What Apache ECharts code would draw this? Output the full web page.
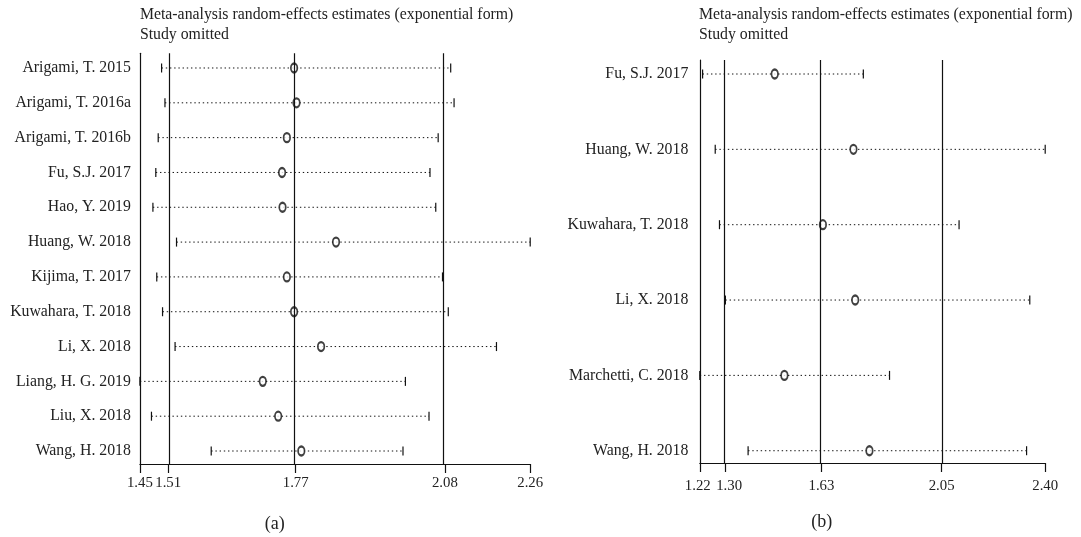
<!DOCTYPE html>
<html><head><meta charset="utf-8">
<script src="https://cdn.jsdelivr.net/npm/echarts@6/dist/echarts.min.js"></script>
<style>html,body{margin:0;padding:0;background:#fff}#c{width:1081px;height:537px}</style>
</head><body><div id="c"></div>
<script>
// Panel (a)
const studiesA = ['Arigami, T. 2015','Arigami, T. 2016a','Arigami, T. 2016b','Fu, S.J. 2017','Hao, Y. 2019','Huang, W. 2018','Kijima, T. 2017','Kuwahara, T. 2018','Li, X. 2018','Liang, H. G. 2019','Liu, X. 2018','Wang, H. 2018'];
const estA  = [1.770, 1.775, 1.755, 1.745, 1.746, 1.857, 1.755, 1.770, 1.826, 1.705, 1.737, 1.785];
const lowA  = [1.495, 1.502, 1.488, 1.483, 1.477, 1.526, 1.485, 1.497, 1.523, 1.450, 1.474, 1.598];
const highA = [2.095, 2.102, 2.069, 2.052, 2.064, 2.260, 2.078, 2.090, 2.190, 2.001, 2.050, 1.996];
const overallA = [1.5087, 1.7733, 2.0829];
const rangeA = [1.45, 2.26];
const ticksA = [1.45, 1.5087, 1.7733, 2.0829, 2.26];

// Panel (b)
const studiesB = ['Fu, S.J. 2017','Huang, W. 2018','Kuwahara, T. 2018','Li, X. 2018','Marchetti, C. 2018','Wang, H. 2018'];
const estB  = [1.4735, 1.744, 1.639, 1.750, 1.5067, 1.799];
const lowB  = [1.2256, 1.269, 1.2836, 1.304, 1.216, 1.382];
const highB = [1.778, 2.403, 2.107, 2.350, 1.868, 2.339];
const overallB = [1.303, 1.634, 2.047];
const rangeB = [1.216, 2.403];
const ticksB = [1.216, 1.303, 1.634, 2.047, 2.403];

const titleLine1 = 'Meta-analysis random-effects estimates (exponential form)';
const titleLine2 = 'Study omitted';

const FONT = '"Liberation Serif", "DejaVu Serif", serif';
const INK = '#111';
const TXT = '#222';
const LBL = 15.8;
const TICK = 14.8;

function ciRender(params, api) {
  const y = api.value(2);
  const lo = api.coord([api.value(0), y]);
  const hi = api.coord([api.value(1), y]);
  const h = 4.5;
  return {type: 'group', children: [
    {type: 'line', shape: {x1: lo[0], y1: lo[1], x2: hi[0], y2: hi[1]}, style: {stroke: INK, lineWidth: 1, lineDash: [1.4, 2.8]}},
    {type: 'line', shape: {x1: lo[0], y1: lo[1] - h, x2: lo[0], y2: lo[1] + h}, style: {stroke: INK, lineWidth: 1.2}},
    {type: 'line', shape: {x1: hi[0], y1: hi[1] - h, x2: hi[0], y2: hi[1] + h}, style: {stroke: INK, lineWidth: 1.2}}
  ]};
}

function xAxisCfg(idx, range, ticks, margin, shiftIdx) {
  return {
    type: 'value', gridIndex: idx, min: range[0], max: range[1],
    axisLine: {onZero: false, lineStyle: {color: INK, width: 1.2}},
    axisTick: {customValues: ticks, length: 9, lineStyle: {color: INK, width: 1.2}},
    axisLabel: {customValues: ticks,
      formatter: v => {
        const s = v.toFixed(2);
        if (shiftIdx !== undefined && Math.abs(v - ticks[shiftIdx]) < 1e-9) return '{r|' + s + '}';
        if (shiftIdx !== undefined && Math.abs(v - ticks[0]) < 1e-9) return '{l|' + s + '}';
        return s;
      },
      rich: {
        r: {fontFamily: FONT, fontSize: TICK, color: TXT, padding: [0, 0, 0, 8]},
        l: {fontFamily: FONT, fontSize: TICK, color: TXT, padding: [0, 4, 0, 0]}
      },
      fontFamily: FONT, fontSize: TICK, color: TXT, margin: margin},
    splitLine: {show: false}
  };
}
function yAxisCfg(idx, names, min, max, margin) {
  return {
    type: 'value', gridIndex: idx, inverse: true, min: min, max: max,
    axisLine: {show: true, onZero: false, lineStyle: {color: INK, width: 1.2}},
    axisTick: {show: false},
    axisLabel: {customValues: names.map((_, i) => i), formatter: v => names[Math.round(v)], fontFamily: FONT, fontSize: LBL, color: TXT, margin: margin},
    splitLine: {show: false}
  };
}
function seriesFor(idx, est, low, high, overall) {
  return [
    {type: 'custom', xAxisIndex: idx, yAxisIndex: idx, renderItem: ciRender,
     encode: {x: [0, 1], y: 2}, data: low.map((l, i) => [l, high[i], i]), z: 2},
    {type: 'scatter', xAxisIndex: idx, yAxisIndex: idx, symbol: 'emptyCircle', symbolSize: [6.5, 9],
     itemStyle: {color: INK, borderColor: INK, borderWidth: 1.2}, z: 3,
     data: est.map((e, i) => [e, i]),
     markLine: {silent: true, symbol: ['none', 'none'], label: {show: false},
       lineStyle: {type: 'solid', color: INK, width: 1.2},
       data: overall.map(v => ({xAxis: v}))}}
  ];
}
function txt(x, y, s, size, align) {
  return {type: 'text', x: x, y: y, style: {text: s, font: size + 'px ' + FONT, fill: TXT, textAlign: align || 'left', textVerticalAlign: 'middle'}};
}

const chart = echarts.init(document.getElementById('c'));
chart.setOption({
  animation: false,
  backgroundColor: '#fff',
  grid: [
    {left: 139.9, right: 550.8, top: 53.3, bottom: 73, containLabel: false},
    {left: 699.8, right: 35.8, top: 60, bottom: 74, containLabel: false}
  ],
  xAxis: [xAxisCfg(0, rangeA, ticksA, 12), xAxisCfg(1, rangeB, ticksB, 16, 1)],
  yAxis: [yAxisCfg(0, studiesA, -0.422, 11.373, 9), yAxisCfg(1, studiesB, -0.186, 5.163, 11.5)],
  series: [...seriesFor(0, estA, lowA, highA, overallA), ...seriesFor(1, estB, lowB, highB, overallB)],
  graphic: [
    txt(139.9, 15, titleLine1, LBL), txt(139.9, 35, titleLine2, LBL),
    txt(699, 15, titleLine1, LBL), txt(699, 35, titleLine2, LBL),
    txt(274.7, 524, '(a)', 18, 'center'), txt(821.7, 522.5, '(b)', 18, 'center')
  ]
});
</script></body></html>
